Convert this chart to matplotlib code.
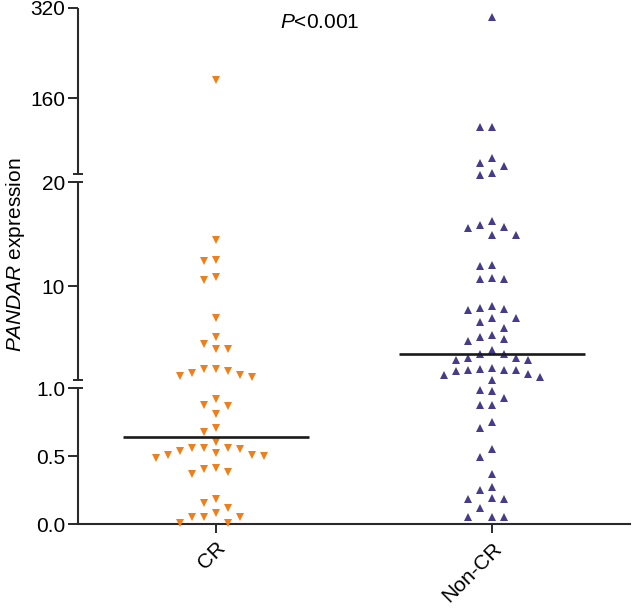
import matplotlib
matplotlib.use('Agg')
import matplotlib.pyplot as plt
import numpy as np

plt.rcParams['font.family'] = ['Liberation Sans', 'DejaVu Sans']
plt.rcParams['mathtext.fontset'] = 'custom'
plt.rcParams['mathtext.rm'] = 'Liberation Sans'
plt.rcParams['mathtext.it'] = 'Liberation Sans:italic'

# values
categories = ['CR', 'Non-CR']
cr_values = [192, 14.4, 12.4, 12.5, 10.9, 10.6, 6.95, 5.1, 3.98, 3.98, 4.45,
             2.06, 1.86, 1.48, 1.29, 1.38, 1.67, 2.06,
             0.92, 0.875, 0.868, 0.81, 0.706, 0.676, 0.603,
             0.559, 0.551, 0.537, 0.507, 0.50, 0.485, 0.507, 0.522, 0.559, 0.559,
             0.404, 0.368, 0.382, 0.412,
             0.184, 0.154, 0.118,
             0.051, 0.051, 0.007, 0.007, 0.051, 0.081]
non_cr_values = [303, 109, 109, 46, 55, 40.7, 28.4, 24.9,
                 15.7, 16.3, 15.6, 15.9, 14.9, 14.9,
                 11.9, 12.0, 10.7, 10.7, 10.8,
                 7.9, 7.72, 7.81, 8.1,
                 6.95, 6.57, 6.95, 5.99,
                 5.13, 4.74, 4.93, 5.32,
                 3.5, 3.11, 2.92, 2.92, 3.11, 3.5, 3.88,
                 2.15, 1.96, 1.96, 1.58, 1.29, 1.48, 1.86, 1.96, 2.06, 1.02,
                 0.985, 0.978, 0.926, 0.875, 0.875, 0.75, 0.706, 0.551, 0.493, 0.368,
                 0.25, 0.272, 0.184, 0.184, 0.191, 0.118, 0.051, 0.051, 0.051]
colors = ['#EF7F1A', '#453D8B']
markers = ['v', '^']

y_ticks = [0, 0.5, 1.0, 10, 20, 160, 320]
y_tick_labels = ['0.0', '0.5', '1.0', '10', '20', '160', '320']

# broken y axis: data value -> pixel height above the x axis (3 linear pieces)
seg_data = [0.0, 1.0, 1.0 + 1e-6, 20.0, 20.0 + 1e-6, 320.0]
seg_px = [0.0, 136.0, 144.0, 342.0, 346.2, 516.5]
lo_slope = seg_px[1] / seg_data[1]
hi_slope = (seg_px[-1] - seg_px[-2]) / (seg_data[-1] - seg_data[-2])


def fwd(v):
    v = np.asarray(v, dtype=float)
    out = np.interp(v, seg_data, seg_px)
    out = np.where(v < 0, v * lo_slope, out)
    out = np.where(v > seg_data[-1], seg_px[-1] + (v - seg_data[-1]) * hi_slope, out)
    return out


def inv(p):
    p = np.asarray(p, dtype=float)
    out = np.interp(p, seg_px, seg_data)
    out = np.where(p < 0, p / lo_slope, out)
    out = np.where(p > seg_px[-1], seg_data[-1] + (p - seg_px[-1]) / hi_slope, out)
    return out


def swarm(values, step=12.0, min_gap=10.5):
    # spread points sideways in slots of `step` px so they don't overlap
    pos = fwd(values)
    slots = np.zeros(len(values))
    placed = {}
    for i in np.argsort(-pos):
        n = 0
        while True:
            k = (n + 1) // 2 * (-1 if n % 2 else 1)
            if all(abs(pos[i] - p) >= min_gap for p in placed.get(k, [])):
                break
            n += 1
        placed.setdefault(k, []).append(pos[i])
        slots[i] = k
    return slots * step


fig_w, fig_h = 632, 609
ax_w, ax_h = 552, seg_px[-1]
fig = plt.figure(figsize=(fig_w / 100, fig_h / 100), dpi=100)
ax = fig.add_axes([78 / fig_w, 85 / fig_h, ax_w / fig_w, ax_h / fig_h])
ax.set_yscale('function', functions=(fwd, inv))
ax.set_xlim(-0.5, 1.5)
ax.set_ylim(0, 320)
px_per_x = ax_w / 2.0

axis_color = '#2a2a2a'
for i, vals in enumerate([cr_values, non_cr_values]):
    x = i + swarm(vals) / px_per_x
    ax.plot(x, vals, linestyle='none', marker=markers[i], ms=6, mew=0,
            color=colors[i], clip_on=False, zorder=3)
    med = np.median(vals)
    ax.plot([i - 0.337, i + 0.337], [med, med], color='#1a1a1a', lw=1.9,
            solid_capstyle='butt', zorder=4)

# axes
for s in ['left', 'top', 'right']:
    ax.spines[s].set_visible(False)
ax.spines['bottom'].set_linewidth(1.5)
ax.spines['bottom'].set_color(axis_color)

# left axis drawn in pieces with break marks
pieces = [(seg_px[0], seg_px[1]), (seg_px[2], seg_px[3]), (350.0, seg_px[5])]
m = 5.0 / ax_w
for a, b in pieces:
    ax.plot([0, 0], [a / ax_h, b / ax_h], transform=ax.transAxes, color=axis_color,
            lw=1.5, clip_on=False, solid_capstyle='butt')
for y in [seg_px[1], seg_px[2], seg_px[3], 350.0]:
    ax.plot([-m, m], [y / ax_h, y / ax_h], transform=ax.transAxes, color=axis_color,
            lw=1.4, clip_on=False, solid_capstyle='butt')

ax.set_yticks(y_ticks)
ax.set_yticklabels(y_tick_labels)
ax.minorticks_off()
ax.tick_params(axis='y', direction='out', length=7.2, width=1.4, pad=2,
               labelsize=15, color=axis_color)
ax.set_xticks([0, 1])
ax.set_xticklabels(categories, rotation=45, ha='right', rotation_mode='anchor')
ax.tick_params(axis='x', direction='out', length=6.5, width=1.4, pad=4,
               labelsize=15, color=axis_color)

fig.text(16 / fig_w, 1 - 255 / fig_h, '$PANDAR$ expression', rotation=90,
         ha='center', va='center', fontsize=15)
fig.text(320 / fig_w, 1 - 22.5 / fig_h, '$P$<0.001', ha='center', va='center',
         fontsize=15)

fig.savefig('out.png', dpi=100)
